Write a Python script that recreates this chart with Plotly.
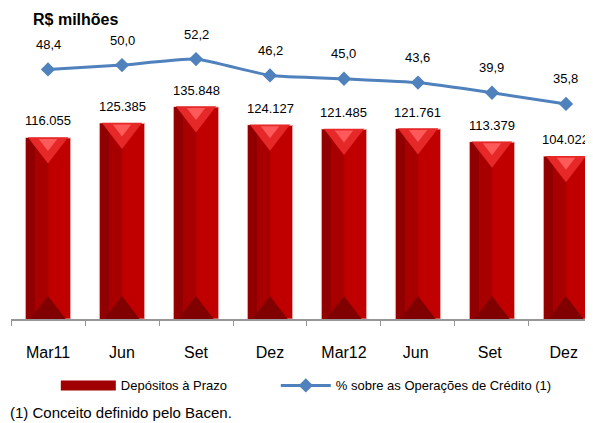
import plotly.graph_objects as go

# Dados
periodos = ['Mar11', 'Jun', 'Set', 'Dez', 'Mar12', 'Jun ', 'Set ', 'Dez ']
depositos = [116.055, 125.385, 135.848, 124.127, 121.485, 121.761, 113.379, 104.022]
pct_credito = [48.4, 50.0, 52.2, 46.2, 45.0, 43.6, 39.9, 35.8]

FONT = 'Liberation Sans, Arial, sans-serif'
px_per_unit = 1.56  # altura da barra por unidade (R$ bi)

fig = go.Figure()

# barras com efeito de bisel: base, faixa escura a esquerda, triangulos
fig.add_trace(go.Bar(x=periodos, y=depositos, width=0.61, marker=dict(color='#C00000', line=dict(color='#E2A8A8', width=1)),
                     showlegend=False, hoverinfo='skip'))
fig.add_trace(go.Bar(x=periodos, y=depositos, width=0.3, offset=-0.295, marker=dict(color='#A80000', line=dict(width=0)),
                     showlegend=False, hoverinfo='skip'))
fig.add_trace(go.Bar(x=periodos, y=depositos, width=0.12, offset=-0.295, marker=dict(color='#900000', line=dict(width=0)),
                     showlegend=False, hoverinfo='skip'))
fig.add_trace(go.Scatter(x=periodos, y=[v - 8 / px_per_unit for v in depositos], mode='markers',
                         marker=dict(symbol='triangle-down', size=35, color='#E62828', line=dict(width=0)),
                         showlegend=False, hoverinfo='skip'))
fig.add_trace(go.Scatter(x=periodos, y=[v - 5 / px_per_unit for v in depositos], mode='markers',
                         marker=dict(symbol='triangle-down', size=16, color='#FF5A5A', line=dict(width=0)),
                         showlegend=False, hoverinfo='skip'))
fig.add_trace(go.Scatter(x=periodos, y=[7 / px_per_unit] * len(depositos), mode='markers',
                         marker=dict(symbol='triangle-up', size=32, color='#800000', line=dict(width=0)),
                         showlegend=False, hoverinfo='skip'))

# entrada de legenda das barras
fig.add_trace(go.Scatter(x=[None], y=[None], mode='lines', name='Depósitos à Prazo',
                         line=dict(color='#A00000', width=12), legend='legend'))

# linha % sobre operacoes de credito
fig.add_trace(go.Scatter(x=periodos, y=pct_credito, yaxis='y2', mode='lines+markers',
                         name='% sobre as Operações de Crédito (1)', legend='legend2',
                         line=dict(color='#4F81BD', width=3, shape='spline', smoothing=0.4),
                         marker=dict(symbol='diamond', size=11, color='#4F81BD')))

annotations = []
for p, v in zip(periodos, depositos):
    annotations.append(dict(x=p, y=v, xref='x', yref='y', text=f'{v:.3f}', showarrow=False,
                            yshift=17, font=dict(size=13, color='#000000', family=FONT)))
for p, v in zip(periodos, pct_credito):
    annotations.append(dict(x=p, y=v, xref='x', yref='y2', text=f'{v:.1f}'.replace('.', ','), showarrow=False,
                            yshift=25, font=dict(size=13, color='#000000', family=FONT)))
annotations.append(dict(x=0.034, y=1.038, xref='paper', yref='paper', xanchor='left', yanchor='middle',
                        text='<b>R$ milhões</b>', showarrow=False, font=dict(size=16, color='#000000', family=FONT)))
annotations.append(dict(x=-0.005, y=-0.325, xref='paper', yref='paper', xanchor='left', yanchor='middle',
                        text='(1) Conceito definido pelo Bacen.', showarrow=False,
                        font=dict(size=15, color='#000000', family=FONT)))

legend_style = dict(orientation='h', y=-0.23, xanchor='left', yanchor='middle',
                    font=dict(size=13, color='#000000', family=FONT), bgcolor='rgba(0,0,0,0)')

# a pagina tem margem de 8px: figura 8px menor em cada direcao
fig.update_layout(
    width=585, height=415,
    margin=dict(l=3, r=0, t=22, b=104),
    plot_bgcolor='white', paper_bgcolor='white',
    barmode='overlay',
    font=dict(family=FONT, color='#000000'),
    xaxis=dict(range=[-0.5, 7.365], showline=True, linecolor='#969696', linewidth=2,
               ticks='outside', tickson='boundaries', ticklen=5, tickcolor='#969696',
               tickfont=dict(size=16), ticklabelstandoff=18, showgrid=False),
    yaxis=dict(range=[0, 289 / px_per_unit], visible=False, showgrid=False),
    yaxis2=dict(range=[-42.7, 62.8], overlaying='y', visible=False, showgrid=False),
    legend=dict(x=0.077, itemwidth=55, **legend_style),
    legend2=dict(x=0.455, itemwidth=50, **legend_style),
    annotations=annotations,
)

fig.write_html('out.html')
